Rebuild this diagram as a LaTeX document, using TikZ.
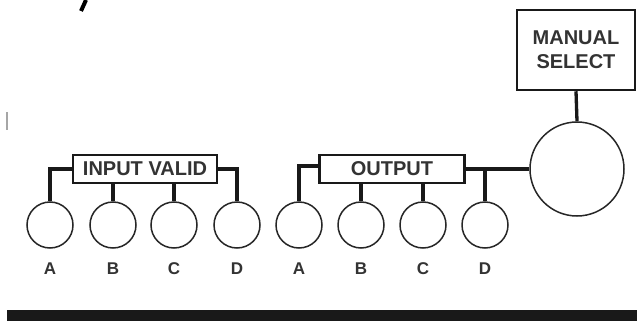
\documentclass[tikz,border=0pt]{standalone}
\usepackage{fontspec}
\setmainfont{Liberation Sans}
\begin{document}
\begin{tikzpicture}[x=1pt,y=-1pt,
  led/.style={circle,draw=black!85,line width=1.5pt,minimum size=46pt,inner sep=0pt,fill=white},
  bigled/.style={circle,draw=black!85,line width=1.5pt,minimum size=94pt,inner sep=0pt,fill=white},
  lab/.style={rectangle,draw=black!90,line width=2.5pt,inner sep=0pt,fill=white,text=black!80,font=\fontsize{20}{22}\selectfont\bfseries},
  conn/.style={line width=3.3pt,black!90},
  letter/.style={text=black!80,font=\fontsize{17}{19}\selectfont\bfseries}]
\useasboundingbox (0,0) rectangle (637,329);
% stray marks
\draw[line width=4pt] (86,0) -- (81,11);
\draw[line width=1.5pt,black!35] (7,112) -- (7,130);
% boxes
\node[lab,minimum width=144pt,minimum height=28pt] (iv) at (145,169) {INPUT VALID};
\node[lab,minimum width=145pt,minimum height=28pt] (out) at (392,169) {OUTPUT};
\node[lab,minimum width=118pt,minimum height=80pt,align=center,font=\fontsize{20}{24}\selectfont\bfseries] (ms) at (576,50) {MANUAL\\SELECT};
% input valid LEDs
\node[led] (ia) at (50,225) {};
\node[led] (ib) at (113,225) {};
\node[led] (ic) at (174,225) {};
\node[led] (id) at (237,225) {};
% output LEDs
\node[led] (oa) at (299,225) {};
\node[led] (ob) at (361,225) {};
\node[led] (oc) at (423,225) {};
\node[led] (od) at (485,225) {};
% manual select LED
\node[bigled] (big) at (577,169) {};
% letters
\node[letter] (la) at (ia |- 0,269) {A};
\node[letter] (lb) at (ib |- 0,269) {B};
\node[letter] (lc) at (ic |- 0,269) {C};
\node[letter] (ld) at (id |- 0,269) {D};
\node[letter] (ma) at (oa |- 0,269) {A};
\node[letter] (mb) at (ob |- 0,269) {B};
\node[letter] (mc) at (oc |- 0,269) {C};
\node[letter] (md) at (od |- 0,269) {D};
% connectors
\draw[conn] (iv.west) -| (ia.north);
\draw[conn] (iv.east) -| (id.north);
\draw[conn] (iv.south -| ib.north) -- (ib.north);
\draw[conn] (iv.south -| ic.north) -- (ic.north);
\draw[conn] ([yshift=3pt]out.west) -| (oa.north);
\draw[conn] (out.south -| ob.north) -- (ob.north);
\draw[conn] (out.south -| oc.north) -- (oc.north);
\draw[conn] (out.east) -- (big.west);
\coordinate (dj) at (out.east -| od.north);
\draw[conn] (dj) -- (od.north);
\draw[conn] (ms.south) -- (big.north);
% bottom bar
\fill[black!90] (7,310) rectangle (637,321);
\end{tikzpicture}
\end{document}
